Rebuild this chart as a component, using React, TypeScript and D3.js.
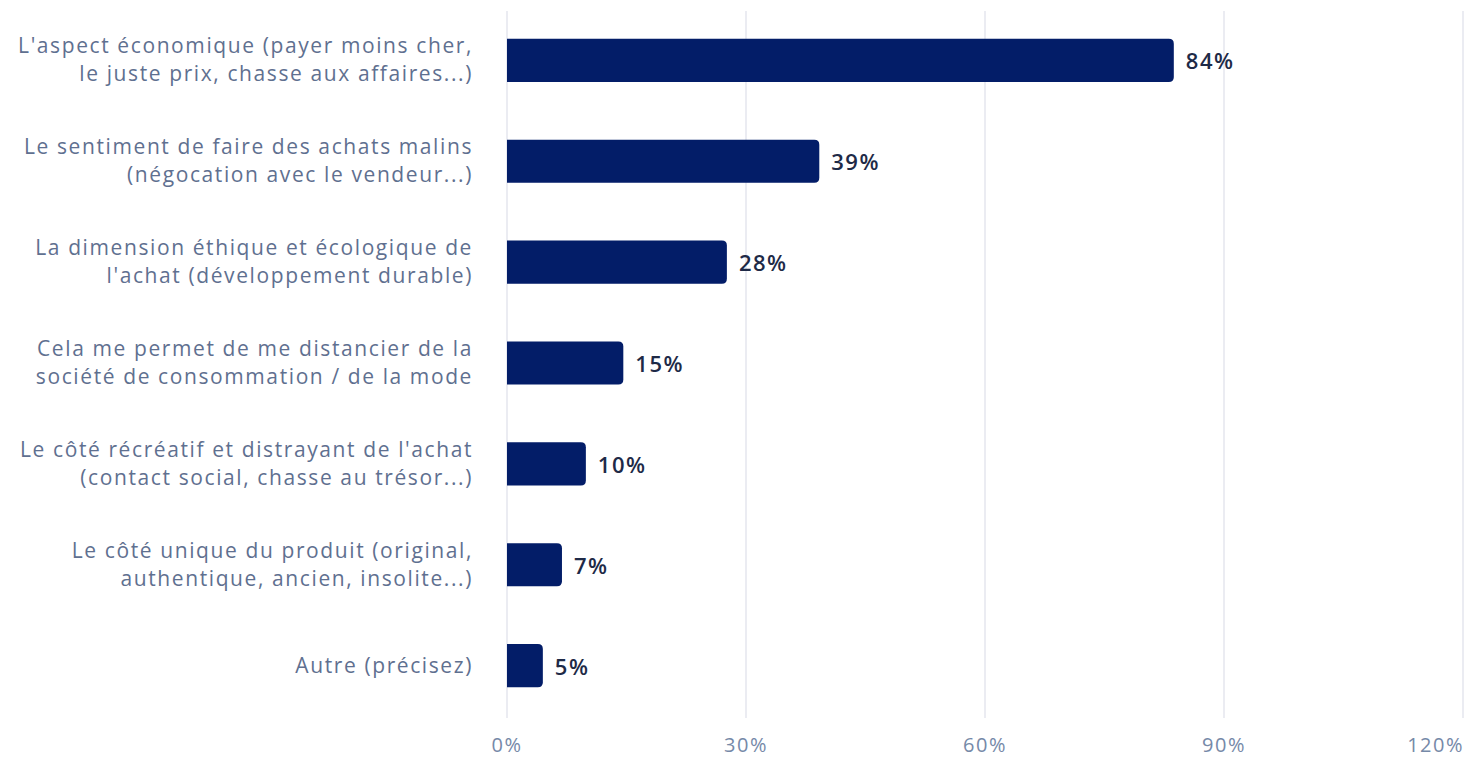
import React from "react";
import * as d3 from "d3";

const categories: string[][] = [
  ["L'aspect économique (payer moins cher,", "le juste prix, chasse aux affaires...)"],
  ["Le sentiment de faire des achats malins", "(négocation avec le vendeur...)"],
  ["La dimension éthique et écologique de", "l'achat (développement durable)"],
  ["Cela me permet de me distancier de la", "société de consommation / de la mode"],
  ["Le côté récréatif et distrayant de l'achat", "(contact social, chasse au trésor...)"],
  ["Le côté unique du produit (original,", "authentique, ancien, insolite...)"],
  ["Autre (précisez)"],
];
// bar lengths (percent)
const values: number[] = [83.7, 39.2, 27.6, 14.6, 9.9, 6.9, 4.5];
// displayed value labels
const valueLabels: string[] = ["84%", "39%", "28%", "15%", "10%", "7%", "5%"];
const ticks: number[] = [0, 30, 60, 90, 120];

const W = 1468;
const H = 758;
const FONT = "'Open Sans', 'Noto Sans', sans-serif";

function barPath(x0: number, x1: number, y: number, h: number, r: number) {
  const rr = Math.min(r, (x1 - x0) / 2, h / 2);
  return `M${x0},${y}H${x1 - rr}Q${x1},${y} ${x1},${y + rr}V${y + h - rr}Q${x1},${y + h} ${x1 - rr},${y + h}H${x0}Z`;
}

export default function App() {
  const x = d3.scaleLinear().domain([0, 120]).range([507, 1463]);
  const ids = categories.map((_, i) => String(i));
  const y = d3.scaleBand<string>().domain(ids).range([10, 716]).paddingInner(0.573).paddingOuter(0.286);
  const bw = y.bandwidth();
  return (
    <svg width={W} height={H} style={{ position: "absolute", left: 0, top: 0, background: "#fff" }}>
      {ticks.map((t, i) => {
        const last = i === ticks.length - 1;
        return (
          <g key={t}>
            <line x1={x(t)} x2={x(t)} y1={11} y2={718} stroke="#e4e6ee" strokeWidth={1.5} />
            <text
              x={last ? x(t) + 1 : x(t)}
              y={752}
              textAnchor={last ? "end" : "middle"}
              fontFamily={FONT}
              fontSize={20}
              letterSpacing={1.5}
              fill="#7689a8"
            >
              {t}%
            </text>
          </g>
        );
      })}
      {values.map((v, i) => {
        const yy = y(String(i))!;
        const cy = yy + bw / 2;
        const lines = categories[i];
        const lh = 28;
        const startY = cy - ((lines.length - 1) * lh) / 2;
        return (
          <g key={i}>
            <path d={barPath(x(0), x(v), yy, bw, 5)} fill="#031d68" />
            <text
              x={x(v) + 12}
              y={cy + 1}
              dy="0.36em"
              fontFamily={FONT}
              fontSize={22}
              letterSpacing={1.5}
              fontWeight={600}
              fill="#1e2a47"
            >
              {valueLabels[i]}
            </text>
            {lines.map((l, j) => (
              <text
                key={j}
                x={473}
                y={startY + j * lh}
                dy="0.33em"
                textAnchor="end"
                fontFamily={FONT}
                fontSize={21}
                letterSpacing={1.6}
                fill="#5f7090"
              >
                {l}
              </text>
            ))}
          </g>
        );
      })}
    </svg>
  );
}
